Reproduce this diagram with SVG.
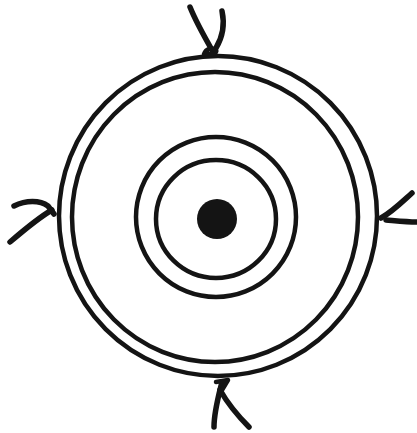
<svg xmlns="http://www.w3.org/2000/svg" width="417" height="433" viewBox="0 0 417 433">
<style>
.l{fill:none;stroke:#141414;stroke-width:4.5;stroke-linecap:round;stroke-linejoin:round}
.h{fill:none;stroke:#141414;stroke-width:5.5;stroke-linecap:round;stroke-linejoin:round}
</style>
<rect width="417" height="433" fill="#fff"/>
<g id="rings">
<ellipse class="l" cx="218" cy="216" rx="159" ry="160"/>
<ellipse class="l" cx="215" cy="217" rx="143" ry="145"/>
<ellipse class="l" cx="216" cy="217" rx="80" ry="80"/>
<ellipse class="l" cx="216" cy="219" rx="60" ry="59"/>
<circle cx="217" cy="219" r="20" fill="#141414"/>
</g>
<g id="hook-top">
<path class="h" d="M190,7 C196,22 204,36 212,50"/>
<path class="h" d="M222,11 C225,25 222,38 216,48"/>
<path class="l" d="M204,54 C206,49 212,47 216,50 C218,53 212,55 204,54"/>
</g>
<g id="hook-left">
<path class="h" d="M10,242 C24,230 38,218 52,210"/>
<path class="h" d="M14,206 C26,200 40,200 48,206 L54,214"/>
</g>
<g id="hook-right">
<path class="h" d="M412,193 C402,202 392,212 381,218"/>
<path class="h" d="M416,222 C408,222 398,221 386,220"/>
</g>
<g id="hook-bottom">
<path class="h" d="M222,382 C218,398 214,412 214,427"/>
<path class="h" d="M220,390 C228,404 238,416 249,427"/>
<path class="l" d="M216,382 L228,380 L222,390"/>
</g>
</svg>
